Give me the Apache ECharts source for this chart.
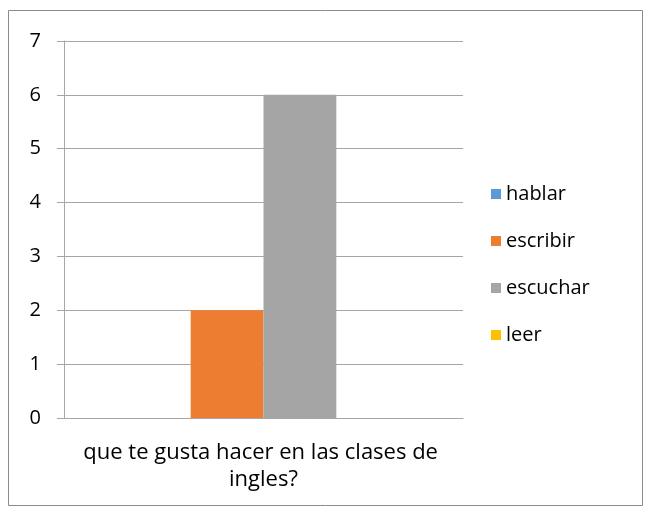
<!DOCTYPE html>
<html>
<head>
<meta charset="utf-8">
<script src="https://cdn.jsdelivr.net/npm/echarts@6/dist/echarts.min.js"></script>
<style>
  html, body { margin: 0; padding: 0; background: #fff; }
  #chart { width: 645px; height: 510px; }
</style>
</head>
<body>
<div id="chart"></div>
<script>
// datos
var categorias = ['que te gusta hacer en las clases de ingles?'];
var nombres = ['hablar', 'escribir', 'escuchar', 'leer'];
var colores = ['#5B9BD5', '#ED7D31', '#A5A5A5', '#FFC000'];
var valores = [[0], [2], [6], [0]];
var ticksY = [0, 1, 2, 3, 4, 5, 6, 7];

var chart = echarts.init(document.getElementById('chart'));
var fuente = '"Open Sans", "Liberation Sans", sans-serif';

var series = nombres.map(function (n, i) {
    return {
        name: n,
        type: 'bar',
        data: valores[i],
        itemStyle: { color: colores[i] },
        barGap: 0,
        barCategoryGap: '27%'
    };
});

var option = {
    animation: false,
    graphic: [{
        type: 'rect',
        shape: { x: 8.5, y: 10.5, width: 634, height: 495 },
        style: { fill: null, stroke: '#8c8c8c', lineWidth: 1 },
        silent: true
    }],
    grid: { left: 64, right: 182, top: 41, bottom: 92 },
    legend: {
        orient: 'vertical',
        left: 491,
        top: 184,
        padding: 0,
        icon: 'rect',
        itemWidth: 10,
        itemHeight: 10,
        itemGap: 27,
        data: nombres,
        textStyle: { fontFamily: fuente, fontSize: 20, lineHeight: 20, color: '#000' }
    },
    xAxis: {
        type: 'category',
        data: categorias,
        axisLine: { lineStyle: { color: '#a6a6a6' } },
        axisTick: { length: 7, lineStyle: { color: '#a6a6a6' } },
        axisLabel: {
            fontFamily: fuente, fontSize: 22, color: '#000',
            margin: 21, lineHeight: 27,
            width: 380, overflow: 'break', align: 'center'
        }
    },
    yAxis: {
        type: 'value',
        min: ticksY[0],
        max: ticksY[ticksY.length - 1],
        interval: 1,
        axisLine: { show: true, lineStyle: { color: '#a6a6a6' } },
        axisTick: { show: true, length: 7, lineStyle: { color: '#a6a6a6' } },
        splitLine: { lineStyle: { color: '#a6a6a6' } },
        axisLabel: { fontFamily: fuente, fontSize: 20, color: '#000', margin: 23 }
    },
    series: series
};

chart.setOption(option);
</script>
</body>
</html>
